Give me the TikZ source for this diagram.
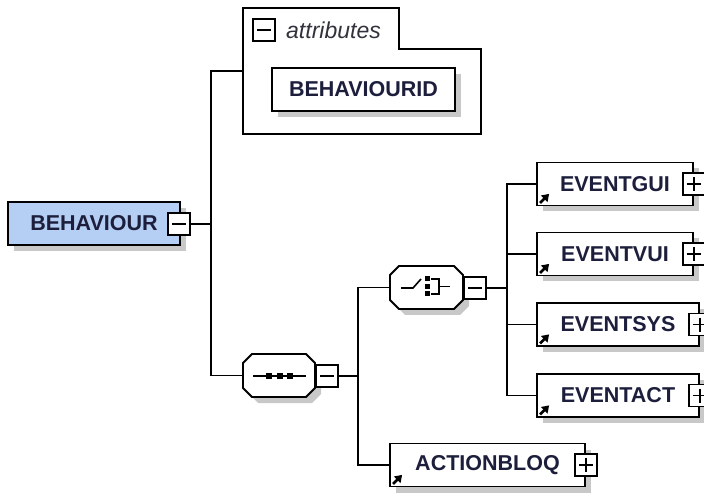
\documentclass[tikz,border=0pt]{standalone}
\usepackage{fontspec}
\setmainfont{Liberation Sans}
\usetikzlibrary{shadows,arrows.meta}
\definecolor{bluefill}{RGB}{180,207,243}
\definecolor{shadowgray}{RGB}{200,200,200}
\definecolor{txt}{RGB}{28,30,60}
\definecolor{attrtxt}{RGB}{50,50,60}
\newcommand{\octshape}[4]{%
  \fill[shadowgray] (#1+15,#2+6) -- (#3-3,#2+6) -- (#3+6,#2+15) -- (#3+6,#4-3) -- (#3-3,#4+6) -- (#1+15,#4+6) -- (#1+6,#4-3) -- (#1+6,#2+15) -- cycle;
  \draw[line width=1.8pt, fill=white] (#1+9,#2) -- (#3-9,#2) -- (#3,#2+9) -- (#3,#4-9) -- (#3-9,#4) -- (#1+9,#4) -- (#1,#4-9) -- (#1,#2+9) -- cycle;}
\begin{document}
\begin{tikzpicture}[x=1pt,y=-1pt,
  conn/.style={line width=1.8pt},
  elem/.style={draw, line width=1.8pt, fill=white, minimum height=43pt, inner sep=0pt, text=txt,
    font=\bfseries\fontsize{21.5}{24}\selectfont,
    general shadow={fill=shadowgray, shadow xshift=6pt, shadow yshift=-6pt}},
  pmbox/.style={draw, line width=1.7pt, fill=white, minimum size=22pt, inner sep=0pt},
  minusbox/.style={pmbox, path picture={\draw[line width=1.6pt] ([xshift=4pt]path picture bounding box.west) -- ([xshift=-4pt]path picture bounding box.east);}},
  plusbox/.style={pmbox, path picture={\draw[line width=1.6pt] ([xshift=4pt]path picture bounding box.west) -- ([xshift=-4pt]path picture bounding box.east);
      \draw[line width=1.6pt] ([yshift=-4pt]path picture bounding box.north) -- ([yshift=4pt]path picture bounding box.south);}},
  refarrow/.style={line width=2.6pt, -{Triangle[length=7pt,width=9pt]}},
  sym/.style={line width=1.6pt},
  anchorbox/.style={inner sep=0pt, outer sep=0pt},
]
\useasboundingbox (0,0) rectangle (704,494);

% root
\node[elem, fill=bluefill, minimum width=172pt] (beh) at (94,223.5) {BEHAVIOUR};
\node[minusbox] (behm) at (179,224) {};
\coordinate (j1) at (211,224);

% attributes group
\draw[line width=1.8pt] (243,8) -- (399,8) -- (399,49) -- (481,49) -- (481,134) -- (243,134) -- cycle;
\node[anchorbox, minimum width=238pt, minimum height=126pt] (attr) at (362,71) {};
\node[minusbox] (attrm) at (264,30) {};
\node[anchor=west, inner sep=0pt, text=attrtxt, font=\itshape\fontsize{23}{26}\selectfont] (attrt) at (286,30) {attributes};
\node[elem, minimum width=183pt] (bid) at (363.5,89.5) {BEHAVIOURID};

% sequence
\octshape{243}{354}{315}{397}
\node[anchorbox, minimum width=72pt, minimum height=43pt] (seq) at (279,375.5) {};
\draw[sym] (253,376) -- (306,376);
\fill (266,373) rectangle (272,379);
\fill (276.5,373) rectangle (282.5,379);
\fill (287,373) rectangle (293,379);
\node[minusbox] (seqm) at (327,376) {};
\coordinate (j2) at (358,376);

% choice
\octshape{390}{266}{463}{309}
\node[anchorbox, minimum width=73pt, minimum height=43pt] (cho) at (426.5,287.5) {};
\draw[sym] (401,288) -- (413,288) -- (421,279);
\fill (424.5,276.5) rectangle (429.5,281.5);
\fill (424.5,284) rectangle (429.5,289);
\fill (424.5,291.5) rectangle (429.5,296.5);
\draw[sym] (431,279) -- (439,279) -- (439,294) -- (431,294);
\draw[sym] (439,286.5) -- (450,286.5);
\node[minusbox] (chom) at (475,288) {};
\coordinate (j3) at (507,288);

% children
\node[elem, minimum width=156pt] (egui) at (615,184) {EVENTGUI};
\node[elem, minimum width=156pt] (evui) at (615,254) {EVENTVUI};
\node[elem, minimum width=162pt] (esys) at (618,324.5) {EVENTSYS};
\node[elem, minimum width=162pt] (eact) at (618,395.5) {EVENTACT};
\node[elem, minimum width=195pt] (act) at (487.5,465) {ACTIONBLOQ};

\foreach \n in {egui,evui,esys,eact,act}{
  \node[plusbox] (\n p) at (\n.east) {};
  \draw[refarrow] ([xshift=4pt,yshift=3.5pt]\n.south west) -- ++(9pt,9pt);
}

% connectors
\draw[conn] (behm.east) -- (j1);
\draw[conn] (j1) |- (attr.west);
\draw[conn] (j1) |- (seq.west);
\draw[conn] (seqm.east) -- (j2);
\draw[conn] (j2) |- (cho.west);
\draw[conn] (j2) |- (act.west);
\draw[conn] (chom.east) -- (j3);
\draw[conn] (j3) |- (egui.west);
\draw[conn] (j3) |- (evui.west);
\draw[conn] (j3) |- (esys.west);
\draw[conn] (j3) |- (eact.west);
\end{tikzpicture}
\end{document}
